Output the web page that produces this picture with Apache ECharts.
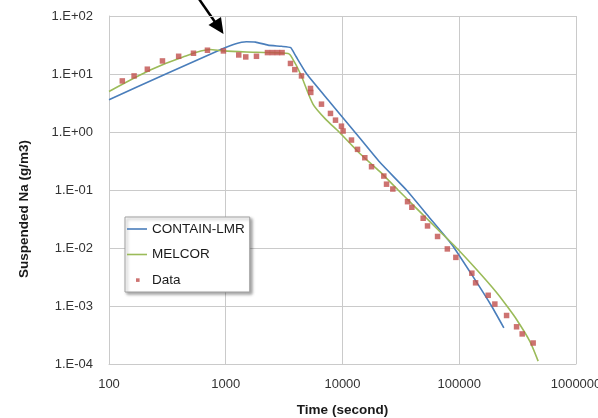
<!DOCTYPE html>
<html>
<head>
<meta charset="utf-8">
<script src="https://cdn.jsdelivr.net/npm/echarts@6/dist/echarts.min.js"></script>
<style>html,body{margin:0;padding:0;background:#fff;}#c{width:598px;height:418px;}</style>
</head>
<body>
<div id="c"></div>
<script>
// Time (second)
const containTime = [100, 300, 950, 1200, 1500, 1800, 2300, 3000, 3600, 4000, 4940, 7780, 12740, 20900, 35300, 55000, 86000, 130000, 189000, 241000];
// Suspended Na (g/m3)
const containValue = [3.6, 9.8, 27.5, 33, 36, 35.5, 31.5, 30, 28.5, 20, 10, 3.3, 1.0, 0.3, 0.1, 0.0343, 0.0116, 0.0033, 0.001, 0.00042];

const melcorTime = [100, 223, 430, 729, 950, 1500, 2300, 3420, 3700, 4370, 5600, 7300, 9350, 14000, 20900, 29900, 40300, 63900, 94900, 140700, 208700, 254000, 309700, 402600, 474000];
const melcorValue = [5.0, 11.6, 19.7, 26.4, 25, 24, 23.5, 22.5, 19, 10, 3.0, 1.6, 1.0, 0.43, 0.207, 0.1, 0.055, 0.0219, 0.01, 0.00425, 0.00171, 0.00102, 0.000586, 0.000246, 0.000112];

const dataTime = [130, 164, 213, 287, 395, 529, 697, 955, 1292, 1484, 1833, 2277, 2513, 2773, 3037, 3584, 3903, 4453, 5321, 5349, 6607, 7889, 8710, 9795, 10116, 11940, 13450, 15530, 17730, 22590, 23830, 26980, 36060, 39260, 49090, 53480, 65200, 79060, 93530, 128200, 138000, 177000, 201800, 254300, 309700, 346000, 429600];
const dataValue = [7.6, 9.27, 12.1, 16.8, 20.2, 22.8, 25.7, 25, 21.3, 19.7, 20.2, 23.4, 23.4, 23.4, 23.4, 15.2, 11.9, 9.27, 5.63, 4.81, 3.02, 2.09, 1.60, 1.26, 1.04, 0.726, 0.502, 0.360, 0.252, 0.174, 0.126, 0.104, 0.0629, 0.0504, 0.0326, 0.0240, 0.0158, 0.00964, 0.00689, 0.00368, 0.00251, 0.00153, 0.00108, 0.000686, 0.000438, 0.00033, 0.00023];

const seriesNames = ['CONTAIN-LMR', 'MELCOR', 'Data'];
const yTickLabels = ['1.E-04', '1.E-03', '1.E-02', '1.E-01', '1.E+00', '1.E+01', '1.E+02'];
const xTitle = 'Time (second)';
const yTitle = 'Suspended Na (g/m3)';

function pairs(xs, ys) { return xs.map((x, i) => [x, ys[i]]); }

const FONT = 'Liberation Sans';
const LINE_ICON = 'path://M0 0M20 5M0 1.7h20v1.6h-20z';
const DOT_ICON = 'path://M0 0M20 5M9 0.8h3.6v3.6h-3.6z';
const chart = echarts.init(document.getElementById('c'), null, { renderer: 'canvas' });
chart.setOption({
  animation: false,
  backgroundColor: '#ffffff',
  grid: { left: 109, right: 22, top: 16, bottom: 54, containLabel: false, outerBoundsMode: 'none' },
  xAxis: {
    type: 'log', logBase: 10, min: 100, max: 1000000, splitNumber: 4,
    name: xTitle, nameLocation: 'middle', nameGap: 39,
    nameTextStyle: { fontFamily: FONT, fontSize: 13.5, fontWeight: 'bold', color: '#1a1a1a' },
    axisLine: { show: true, lineStyle: { color: '#cacaca', width: 1 } },
    axisTick: { show: false },
    axisLabel: { fontFamily: FONT, fontSize: 13, color: '#333', margin: 14, showMaxLabel: true, showMinLabel: true,
      hideOverlap: false, formatter: v => String(Math.round(v)) },
    splitLine: { show: true, lineStyle: { color: '#cacaca', width: 1 } },
    minorTick: { show: false }
  },
  yAxis: {
    type: 'log', logBase: 10, min: 0.0001, max: 100, splitNumber: 6,
    axisLine: { show: true, lineStyle: { color: '#cacaca', width: 1 } },
    axisTick: { show: false },
    axisLabel: { fontFamily: FONT, fontSize: 13, color: '#333', margin: 16,
      formatter: v => yTickLabels[Math.round(Math.log10(v)) + 4] },
    splitLine: { show: true, lineStyle: { color: '#cacaca', width: 1 } }
  },
  legend: {
    orient: 'vertical', left: 125, top: 217,
    data: [
      { name: seriesNames[0], icon: LINE_ICON },
      { name: seriesNames[1], icon: LINE_ICON },
      { name: seriesNames[2], icon: DOT_ICON }
    ],
    itemWidth: 20, itemHeight: 5, itemGap: 11.5,
    padding: [5, 5, 5, 2],
    textStyle: { fontFamily: FONT, fontSize: 13.5, color: '#1a1a1a' },
    backgroundColor: '#ffffff', borderColor: '#a0a0a0', borderWidth: 1,
    shadowBlur: 3, shadowColor: 'rgba(0,0,0,0.35)', shadowOffsetX: 2, shadowOffsetY: 2
  },
  series: [
    { name: seriesNames[0], type: 'line', data: pairs(containTime, containValue), symbol: 'none', smooth: 0.15,
      lineStyle: { color: '#4a7ebb', width: 1.6 }, itemStyle: { color: '#4a7ebb' }, z: 2 },
    { name: seriesNames[1], type: 'line', data: pairs(melcorTime, melcorValue), symbol: 'none', smooth: 0.25,
      lineStyle: { color: '#9bbb59', width: 1.6 }, itemStyle: { color: '#9bbb59' }, z: 3 },
    { name: seriesNames[2], type: 'scatter', data: pairs(dataTime, dataValue), symbol: 'rect', symbolSize: 5.5,
      itemStyle: { color: '#c0504d' }, z: 4 }
  ],
  graphic: [
    { type: 'text', x: 24, y: 209, rotation: Math.PI / 2,
      style: { text: yTitle, font: 'bold 13.5px "' + FONT + '"', fill: '#1a1a1a', align: 'center', verticalAlign: 'middle' } },
    { type: 'line', shape: { x1: 199, y1: -1, x2: 215, y2: 22 }, style: { stroke: '#000', lineWidth: 2.5 } },
    { type: 'polygon', shape: { points: [[223.5, 34], [208.5, 25], [221, 17]] }, style: { fill: '#000' } }
  ]
});
</script>
</body>
</html>
